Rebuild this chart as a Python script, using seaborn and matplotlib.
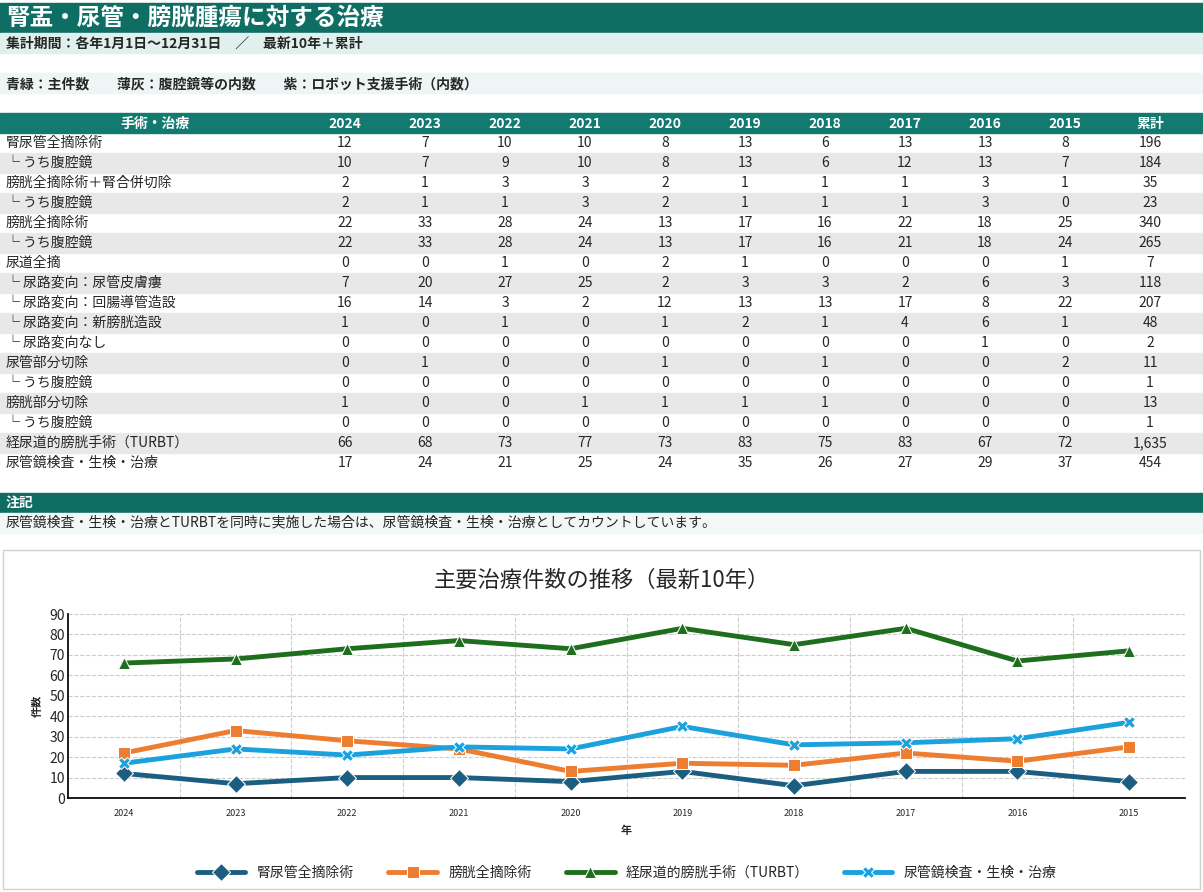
import matplotlib.pyplot as plt
import seaborn as sns
import pandas as pd
from matplotlib.patches import Rectangle

sns.set_theme(style="white")
plt.rcParams['font.family'] = ['Noto Sans CJK JP', 'DejaVu Sans']

years = ["2024", "2023", "2022", "2021", "2020", "2019", "2018", "2017", "2016", "2015"]
columns = years + ["累計"]
row_labels = ["腎尿管全摘除術", "└ うち腹腔鏡", "膀胱全摘除術＋腎合併切除", "└ うち腹腔鏡",
              "膀胱全摘除術", "└ うち腹腔鏡", "尿道全摘", "└ 尿路変向：尿管皮膚瘻",
              "└ 尿路変向：回腸導管造設", "└ 尿路変向：新膀胱造設", "└ 尿路変向なし",
              "尿管部分切除", "└ うち腹腔鏡", "膀胱部分切除", "└ うち腹腔鏡",
              "経尿道的膀胱手術（TURBT）", "尿管鏡検査・生検・治療"]
table_values = [
    ["12", "7", "10", "10", "8", "13", "6", "13", "13", "8", "196"],
    ["10", "7", "9", "10", "8", "13", "6", "12", "13", "7", "184"],
    ["2", "1", "3", "3", "2", "1", "1", "1", "3", "1", "35"],
    ["2", "1", "1", "3", "2", "1", "1", "1", "3", "0", "23"],
    ["22", "33", "28", "24", "13", "17", "16", "22", "18", "25", "340"],
    ["22", "33", "28", "24", "13", "17", "16", "21", "18", "24", "265"],
    ["0", "0", "1", "0", "2", "1", "0", "0", "0", "1", "7"],
    ["7", "20", "27", "25", "2", "3", "3", "2", "6", "3", "118"],
    ["16", "14", "3", "2", "12", "13", "13", "17", "8", "22", "207"],
    ["1", "0", "1", "0", "1", "2", "1", "4", "6", "1", "48"],
    ["0", "0", "0", "0", "0", "0", "0", "0", "1", "0", "2"],
    ["0", "1", "0", "0", "1", "0", "1", "0", "0", "2", "11"],
    ["0", "0", "0", "0", "0", "0", "0", "0", "0", "0", "1"],
    ["1", "0", "0", "1", "1", "1", "1", "0", "0", "0", "13"],
    ["0", "0", "0", "0", "0", "0", "0", "0", "0", "0", "1"],
    ["66", "68", "73", "77", "73", "83", "75", "83", "67", "72", "1,635"],
    ["17", "24", "21", "25", "24", "35", "26", "27", "29", "37", "454"],
]

series_names = ["腎尿管全摘除術", "膀胱全摘除術", "経尿道的膀胱手術（TURBT）", "尿管鏡検査・生検・治療"]
s_nephro = [12, 7, 10, 10, 8, 13, 6, 13, 13, 8]
s_cyst = [22, 33, 28, 24, 13, 17, 16, 22, 18, 25]
s_turbt = [66, 68, 73, 77, 73, 83, 75, 83, 67, 72]
s_uscope = [17, 24, 21, 25, 24, 35, 26, 27, 29, 37]

teal = "#0f6e64"
W, H = 1203, 892
fig = plt.figure(figsize=(W / 100, H / 100), dpi=100)
bg = fig.add_axes([0, 0, 1, 1])
bg.set_xlim(0, W)
bg.set_ylim(H, 0)
bg.axis("off")

# header bands
bg.add_patch(Rectangle((0, 3), W, 30, color=teal))
bg.text(6, 18, "腎盂・尿管・膀胱腫瘍に対する治療", color="white", fontsize=17, fontweight="bold", va="center")
bg.add_patch(Rectangle((0, 33), W, 20, color="#e0f0ee"))
bg.text(6, 44, "集計期間：各年1月1日〜12月31日　／　最新10年＋累計", fontsize=10, fontweight="bold", va="center")
bg.add_patch(Rectangle((0, 73), W, 20, color="#eef6f5"))
bg.text(6, 84, "青緑：主件数　　薄灰：腹腔鏡等の内数　　紫：ロボット支援手術（内数）", fontsize=10, fontweight="bold", va="center")

# table
col_x = [345, 425, 505, 585, 665, 745, 825, 905, 985, 1065, 1150]
bg.add_patch(Rectangle((0, 113), W, 20, color="#137a70"))
bg.text(155, 124, "手術・治療", color="white", fontsize=10, fontweight="bold", ha="center", va="center")
for cx, c in zip(col_x, columns):
    bg.text(cx, 124, c, color="white", fontsize=10, fontweight="bold", ha="center", va="center")
for i, (lab, vals) in enumerate(zip(row_labels, table_values)):
    y0 = 133 + i * 20
    if i % 2 == 1:
        bg.add_patch(Rectangle((0, y0), W, 20, color="#e8e8e8"))
    bg.text(6, y0 + 10, lab, fontsize=10, va="center")
    for cx, v in zip(col_x, vals):
        bg.text(cx, y0 + 10, v, fontsize=10, ha="center", va="center")

bg.add_patch(Rectangle((0, 493), W, 20, color=teal))
bg.text(6, 503, "注記", color="white", fontsize=10, fontweight="bold", va="center")
bg.add_patch(Rectangle((0, 513), W, 20, color="#f3f8f7"))
bg.text(6, 522, "尿管鏡検査・生検・治療とTURBTを同時に実施した場合は、尿管鏡検査・生検・治療としてカウントしています。",
        fontsize=10, va="center")

# chart frame
bg.add_patch(Rectangle((3, 550), W - 6, 339, fill=False, edgecolor="#d0d0d0", lw=1))
bg.text(W / 2, 580, "主要治療件数の推移（最新10年）", fontsize=16, ha="center", va="center")

df = pd.DataFrame({
    "年": years * 4,
    "件数": s_nephro + s_cyst + s_turbt + s_uscope,
    "系列": sum([[n] * len(years) for n in series_names], []),
})
palette = ["#1b5e82", "#ed7d31", "#1e6e1e", "#1ba1dc"]
markers = ["D", "s", "^", "X"]

ax = fig.add_axes([68 / W, 1 - 798 / H, (1185 - 68) / W, (798 - 614) / H])
sns.lineplot(data=df, x="年", y="件数", hue="系列", style="系列", palette=palette,
             markers=markers, dashes=False, lw=3.5, markersize=9, sort=False, ax=ax)
ax.set_xlim(-0.5, 9.5)
ax.set_ylim(0, 90)
ax.set_yticks(range(0, 91, 10))
ax.tick_params(axis="y", labelsize=10, pad=2, length=0)
ax.tick_params(axis="x", labelsize=6.5, length=0, pad=8)
for b in range(1, 10):
    ax.axvline(b - 0.5, color="#cccccc", ls="--", lw=0.8, zorder=0)
for yv in range(10, 91, 10):
    ax.axhline(yv, color="#cccccc", ls="--", lw=0.8, zorder=0)
for s in ["top", "right"]:
    ax.spines[s].set_visible(False)
ax.spines["left"].set_color("black")
ax.spines["bottom"].set_color("black")
ax.set_xlabel("年", fontsize=8, fontweight="bold")
ax.set_ylabel("件数", fontsize=8, fontweight="bold")
ax.legend(loc="upper center", bbox_to_anchor=(0.5, -0.3), ncol=4, frameon=False, fontsize=10,
          handlelength=3.5, columnspacing=2.5)

plt.savefig("out.png", dpi=100)
